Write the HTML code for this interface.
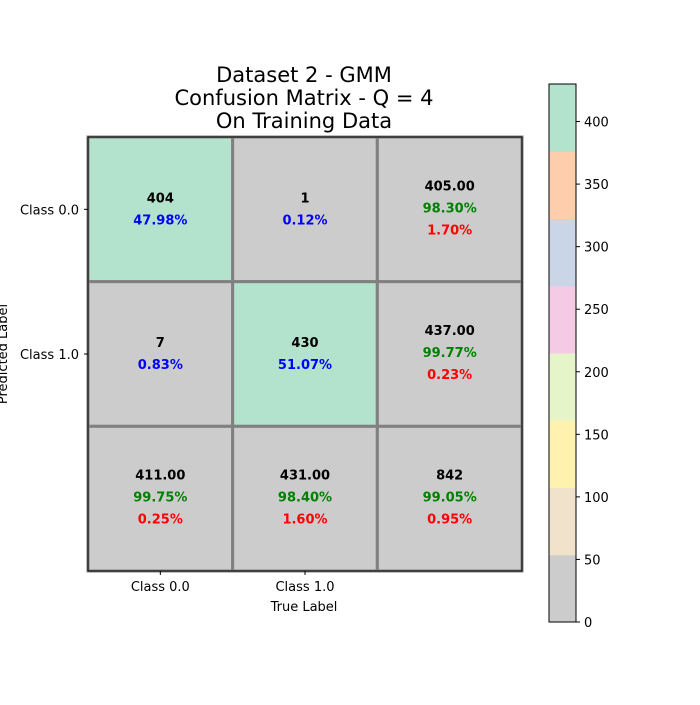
<!DOCTYPE html>
<html><head><meta charset="utf-8"><style>
body{margin:0;background:#fff}
svg{font-family:"DejaVu Sans","Liberation Sans",sans-serif}
</style></head><body>
<svg id="c" width="700" height="700" xmlns="http://www.w3.org/2000/svg">
<g font-size="21" text-anchor="middle" fill="#000">
<text x="304" y="82">Dataset 2 - GMM</text>
<text x="304" y="105">Confusion Matrix - Q = 4</text>
<text x="304" y="128">On Training Data</text>
</g>
<g id="cells"></g>
<g id="axes"></g>
<g id="cbar"></g>
</svg>
<script>
const classes=["Class 0.0","Class 1.0"];
const counts=[[404,1,405],[7,430,437],[411,431,842]];
const line1=[["404","1","405.00"],["7","430","437.00"],["411.00","431.00","842"]];
const line2=[["47.98%","0.12%","98.30%"],["0.83%","51.07%","99.77%"],["99.75%","98.40%","99.05%"]];
const line3=[["","","1.70%"],["","","0.23%"],["0.25%","1.60%","0.95%"]];
const cbTicks=[0,50,100,150,200,250,300,350,400];
const cbMax=430;
const palette=["#cccccc","#f1e2cc","#fff2ae","#e6f5c9","#f4cae4","#cbd5e8","#fdcdac","#b3e2cd"];
const NS="http://www.w3.org/2000/svg";
function mk(t,a,p,txt){const e=document.createElementNS(NS,t);for(const k in a)e.setAttribute(k,a[k]);if(txt!==undefined)e.textContent=txt;p.appendChild(e);return e;}
const X0=88,Y0=137,S=434/3;
const cx=i=>X0+S*(i+0.5), cy=j=>Y0+S*(j+0.5);
function colorFor(v){let b=Math.floor(v/cbMax*palette.length);return palette[Math.max(0,Math.min(palette.length-1,b))];}
const cells=document.getElementById('cells');
for(let r=0;r<3;r++)for(let c=0;c<3;c++){
  const isSummary=(r==2||c==2);
  const fill=isSummary?"#cccccc":colorFor(counts[r][c]);
  const rect=mk('rect',{x:X0+S*c,y:Y0+S*r,width:S,height:S,fill:fill,stroke:"#808080","stroke-width":3},cells);
  
  
  const three=line3[r][c]!=="";
  const base=cy(r)+(three?-24:-12);
  const t1=mk('text',{x:cx(c),y:base+5,"text-anchor":"middle","font-size":13,"font-weight":"bold",fill:"#000"},cells,line1[r][c]);
  
  
  const t2=mk('text',{x:cx(c),y:base+27,"text-anchor":"middle","font-size":13,"font-weight":"bold",fill:three?"green":"blue"},cells,line2[r][c]);
  
  
  if(three){const t3=mk('text',{x:cx(c),y:base+49,"text-anchor":"middle","font-size":13,"font-weight":"bold",fill:"red"},cells,line3[r][c]);
  
  }
}
const ax=document.getElementById('axes');
mk('rect',{x:X0,y:Y0,width:434,height:434,fill:"none",stroke:"#000","stroke-width":1},ax);
classes.forEach((n,i)=>{
  mk('line',{x1:cx(i),x2:cx(i),y1:571,y2:575,stroke:"#000"},ax);
  const t=mk('text',{x:cx(i),y:591,"text-anchor":"middle","font-size":13},ax,n);
  
  
  mk('line',{x1:84,x2:88,y1:cy(i),y2:cy(i),stroke:"#000"},ax);
  const u=mk('text',{x:79,y:cy(i)+5,"text-anchor":"end","font-size":13},ax,n);
  
  
});
const xl=mk('text',{x:304,y:611,"text-anchor":"middle","font-size":13},ax,"True Label");


const yl=mk('text',{x:7,y:354,"text-anchor":"middle","font-size":13,transform:"rotate(-90 7 354)"},ax,"Predicted Label");


const cb=document.getElementById('cbar');
const CX=549,CW=27,CT=84,CB=622;
const cyv=v=>CB-v/cbMax*(CB-CT);
palette.forEach((col,i)=>{
  const v0=i*cbMax/palette.length,v1=(i+1)*cbMax/palette.length;
  const r=mk('rect',{x:CX,y:cyv(v1),width:CW,height:cyv(v0)-cyv(v1)+0.5,fill:col},cb);
  
  
});
mk('rect',{x:CX,y:CT,width:CW,height:CB-CT,fill:"none",stroke:"#000","stroke-width":1},cb);
cbTicks.forEach(v=>{
  mk('line',{x1:CX+CW,x2:CX+CW+4,y1:cyv(v),y2:cyv(v),stroke:"#000"},cb);
  const t=mk('text',{x:CX+CW+8,y:cyv(v)+5,"font-size":13},cb,String(v));
  
  
});
</script>
</body></html>
